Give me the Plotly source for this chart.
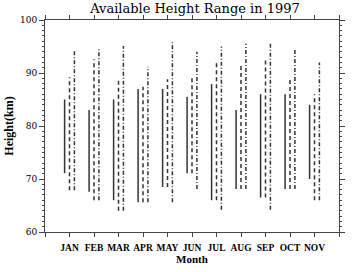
import plotly.graph_objects as go

months = ["JAN", "FEB", "MAR", "APR", "MAY", "JUN", "JUL", "AUG", "SEP", "OCT", "NOV"]
solid_top = [85.0, 83.0, 85.0, 87.0, 87.0, 85.5, 87.9, 83.0, 86.0, 86.0, 84.0]
solid_bot = [71.1, 67.6, 66.0, 65.6, 68.5, 71.1, 66.0, 68.1, 66.5, 68.1, 70.0]
dash_top = [89.2, 92.6, 89.1, 87.4, 88.8, 89.5, 92.0, 91.3, 92.5, 89.0, 86.0]
dash_bot = [67.9, 66.0, 64.0, 65.6, 68.5, 71.1, 66.0, 68.1, 66.5, 68.1, 66.0]
dd_top = [94.2, 94.7, 95.1, 91.2, 95.9, 94.0, 95.0, 95.5, 95.5, 94.7, 92.0]
dd_bot = [67.9, 66.0, 64.0, 65.6, 65.6, 68.1, 64.2, 68.1, 64.2, 68.1, 66.0]

series = [
    (solid_bot, solid_top, -0.2, "solid"),
    (dash_bot, dash_top, 0.0, "4px,3px"),
    (dd_bot, dd_top, 0.2, "4px,2px,1px,2px"),
]

fig = go.Figure()
for bots, tops, off, dash in series:
    xs, ys = [], []
    for i, (b, t) in enumerate(zip(bots, tops)):
        xc = i + 1 + off
        xs += [xc, xc, None]
        ys += [b, t, None]
    fig.add_trace(go.Scatter(x=xs, y=ys, mode="lines", showlegend=False,
                             line=dict(color="#333333", width=1.5, dash=dash)))

tickvals = list(range(0, 13))
ticktext = [""] + months + [""]

fig.update_layout(
    width=352, height=272,
    margin=dict(l=45, r=7, t=20, b=40),
    paper_bgcolor="white", plot_bgcolor="white",
    title=dict(text="Available Height Range in 1997", x=0.554, xanchor="center",
               y=0.985, yanchor="top",
               font=dict(family="DejaVu Serif", size=13, color="black")),
    font=dict(family="DejaVu Serif", color="black"),
)
fig.update_xaxes(
    range=[0, 12], tickvals=tickvals, ticktext=ticktext, tickangle=0,
    ticks="outside", ticklen=4, tickcolor="#444", tickwidth=1,
    ticklabelstandoff=3,
    showline=True, linecolor="#444", linewidth=1, mirror="ticks",
    showgrid=False, zeroline=False,
    tickfont=dict(family="Liberation Serif", size=9.5, color="black", weight="bold"),
    title=dict(text="<b>Month</b>", standoff=2,
               font=dict(family="Liberation Serif", size=11, color="black")),
)
fig.update_yaxes(
    range=[60, 100], dtick=10, tick0=60,
    ticks="outside", ticklen=5, tickcolor="#444", tickwidth=1,
    minor=dict(dtick=1, ticks="outside", ticklen=2, tickcolor="#444"),
    showline=True, linecolor="#444", linewidth=1, mirror="ticks",
    showgrid=False, zeroline=False,
    tickfont=dict(family="DejaVu Serif", size=9, color="black"),
    title=dict(text="<b>Height(km)</b>", standoff=3,
               font=dict(family="Liberation Serif", size=12, color="black")),
)

fig.write_html("out.html")
